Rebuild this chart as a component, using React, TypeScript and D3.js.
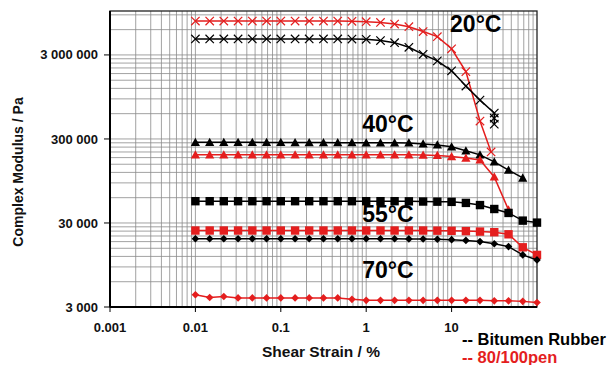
import React from 'react';
import * as d3 from 'd3';

// Shear strain (%) measurement points
const strains = [0.01, 0.0147, 0.0215, 0.0316, 0.0464, 0.0681, 0.1, 0.147, 0.215, 0.316, 0.464, 0.681, 1, 1.47, 2.15, 3.16, 4.64, 6.81, 10, 14.7, 21.5, 31.6, 46.4, 68.1, 100];

// 20°C
const rubber20Strain = [0.01, 0.0147, 0.0215, 0.0316, 0.0464, 0.0681, 0.1, 0.147, 0.215, 0.316, 0.464, 0.681, 1, 1.47, 2.15, 3.16, 4.64, 6.81, 10, 14.7, 21.5, 31.6, 31.6, 31.6];
const rubber20 = [4.65e6, 4.65e6, 4.65e6, 4.65e6, 4.65e6, 4.65e6, 4.65e6, 4.65e6, 4.65e6, 4.65e6, 4.65e6, 4.63e6, 4.6e6, 4.45e6, 4.2e6, 3.7e6, 3.05e6, 2.55e6, 1.94e6, 1.28e6, 8.7e5, 6.1e5, 5.3e5, 4.5e5];
const pen20Strain = [0.01, 0.0147, 0.0215, 0.0316, 0.0464, 0.0681, 0.1, 0.147, 0.215, 0.316, 0.464, 0.681, 1, 1.47, 2.15, 3.16, 4.64, 6.81, 10, 14.7, 21.5, 29];
const pen20 = [7.6e6, 7.6e6, 7.6e6, 7.6e6, 7.6e6, 7.6e6, 7.6e6, 7.6e6, 7.6e6, 7.6e6, 7.6e6, 7.55e6, 7.45e6, 7.3e6, 7.0e6, 6.5e6, 5.7e6, 4.95e6, 3.55e6, 1.9e6, 4.9e5, 2.1e5];

// 40°C
const rubber40 = [2.74e5, 2.74e5, 2.74e5, 2.74e5, 2.74e5, 2.73e5, 2.73e5, 2.72e5, 2.72e5, 2.72e5, 2.71e5, 2.71e5, 2.7e5, 2.7e5, 2.7e5, 2.69e5, 2.62e5, 2.55e5, 2.42e5, 2.17e5, 1.94e5, 1.6e5, 1.28e5, 1.03e5];
const pen40 = [1.94e5, 1.94e5, 1.94e5, 1.94e5, 1.94e5, 1.94e5, 1.94e5, 1.94e5, 1.94e5, 1.94e5, 1.94e5, 1.94e5, 1.94e5, 1.94e5, 1.94e5, 1.94e5, 1.93e5, 1.91e5, 1.85e5, 1.78e5, 1.69e5, 1.06e5, 4.3e4];

// 55°C
const rubber55 = [5.45e4, 5.45e4, 5.45e4, 5.45e4, 5.45e4, 5.45e4, 5.45e4, 5.45e4, 5.45e4, 5.45e4, 5.45e4, 5.45e4, 5.45e4, 5.45e4, 5.45e4, 5.43e4, 5.4e4, 5.38e4, 5.35e4, 5.2e4, 4.9e4, 4.4e4, 3.95e4, 3.2e4, 3.03e4];
const pen55 = [2.44e4, 2.44e4, 2.44e4, 2.44e4, 2.44e4, 2.44e4, 2.44e4, 2.44e4, 2.44e4, 2.44e4, 2.44e4, 2.44e4, 2.44e4, 2.44e4, 2.44e4, 2.44e4, 2.44e4, 2.43e4, 2.42e4, 2.4e4, 2.37e4, 2.33e4, 2.2e4, 1.54e4, 1.25e4];

// 70°C
const rubber70 = [1.95e4, 1.95e4, 1.95e4, 1.95e4, 1.95e4, 1.95e4, 1.95e4, 1.95e4, 1.95e4, 1.95e4, 1.95e4, 1.95e4, 1.95e4, 1.95e4, 1.95e4, 1.94e4, 1.93e4, 1.92e4, 1.9e4, 1.86e4, 1.8e4, 1.7e4, 1.57e4, 1.25e4, 1.09e4];
const pen70 = [4.2e3, 3.9e3, 4.0e3, 3.85e3, 3.85e3, 3.85e3, 3.85e3, 3.85e3, 3.85e3, 3.85e3, 3.85e3, 3.7e3, 3.6e3, 3.6e3, 3.6e3, 3.6e3, 3.6e3, 3.6e3, 3.6e3, 3.6e3, 3.6e3, 3.55e3, 3.55e3, 3.5e3, 3.4e3];

const xTickValues = [0.001, 0.01, 0.1, 1, 10];
const xTickLabels = ['0.001', '0.01', '0.1', '1', '10'];
const yTickValues = [3000, 30000, 300000, 3000000];
const yTickLabels = ['3 000', '30 000', '300 000', '3 000 000'];
const xMinorMultipliers = [1, 2, 3, 4, 5, 6, 7, 8, 9];
const xDecades = [0.001, 0.01, 0.1, 1, 10];
const yMinorMultipliers = [1, 2, 3, 4, 5, 6, 7, 8, 9];
const yDecades = [3000, 30000, 300000, 3000000];

const tempLabels = [
  { text: '20°C', strain: 9.6, modulus: 5.6e6 },
  { text: '40°C', strain: 0.9, modulus: 3.6e5 },
  { text: '55°C', strain: 0.9, modulus: 3.05e4 },
  { text: '70°C', strain: 0.9, modulus: 6.6e3 },
];

const RED = '#e41e1e';
const BLACK = '#000000';
const FONT = '"Liberation Sans", Arial, sans-serif';

type Marker = 'cross' | 'triangle' | 'square' | 'diamond';
interface Series { color: string; marker: Marker; strain: number[]; modulus: number[]; }

const series: Series[] = [
  { color: RED, marker: 'cross', strain: pen20Strain, modulus: pen20 },
  { color: BLACK, marker: 'cross', strain: rubber20Strain, modulus: rubber20 },
  { color: BLACK, marker: 'triangle', strain: strains.slice(0, rubber40.length), modulus: rubber40 },
  { color: RED, marker: 'triangle', strain: strains.slice(0, pen40.length), modulus: pen40 },
  { color: BLACK, marker: 'square', strain: strains, modulus: rubber55 },
  { color: RED, marker: 'square', strain: strains, modulus: pen55 },
  { color: BLACK, marker: 'diamond', strain: strains, modulus: rubber70 },
  { color: RED, marker: 'diamond', strain: strains, modulus: pen70 },
];

const W = 610, H = 365;
const plot = { left: 110, right: 537, top: 11, bottom: 307 };

function MarkerShape({ type, x, y, color }: { type: Marker; x: number; y: number; color: string }) {
  if (type === 'cross') {
    const s = 4.2;
    return <path d={`M${x - s},${y - s}L${x + s},${y + s}M${x - s},${y + s}L${x + s},${y - s}`} stroke={color} strokeWidth={1.2} fill="none" />;
  }
  if (type === 'triangle') {
    const s = 4.6;
    return <path d={`M${x},${y - s}L${x + s},${y + s * 0.8}L${x - s},${y + s * 0.8}Z`} fill={color} />;
  }
  if (type === 'square') {
    const s = 4.2;
    return <rect x={x - s} y={y - s} width={2 * s} height={2 * s} fill={color} />;
  }
  const s = 3.8;
  return <path d={`M${x},${y - s}L${x + s},${y}L${x},${y + s}L${x - s},${y}Z`} fill={color} />;
}

export default function App() {
  const x = d3.scaleLog().domain([0.001, 100]).range([plot.left, plot.right]);
  const y = d3.scaleLog().domain([3000, 1e7]).range([plot.bottom, plot.top]);

  const xGrid: number[] = [];
  xDecades.forEach(d => xMinorMultipliers.forEach(m => xGrid.push(d * m)));
  const yGrid: number[] = [];
  yDecades.forEach(d => yMinorMultipliers.forEach(m => { const v = d * m; if (v <= 1e7) yGrid.push(v); }));

  const line = d3.line<[number, number]>().x(d => x(d[0])).y(d => y(d[1]));

  return (
    <svg width={W} height={H} style={{ position: 'absolute', left: 0, top: 0, background: '#fff' }} fontFamily={FONT}>
      <rect x={0} y={0} width={W} height={H} fill="#fff" />
      {/* grid */}
      {xGrid.map((v, i) => (
        <line key={'xg' + i} x1={x(v)} x2={x(v)} y1={plot.top} y2={plot.bottom} stroke="#8a8a8a" strokeWidth={0.8} />
      ))}
      {yGrid.map((v, i) => (
        <line key={'yg' + i} x1={plot.left} x2={plot.right} y1={y(v)} y2={y(v)} stroke="#8a8a8a" strokeWidth={0.8} />
      ))}
      {/* frame */}
      <rect x={plot.left} y={plot.top} width={plot.right - plot.left} height={plot.bottom - plot.top} fill="none" stroke="#222" strokeWidth={1.3} />
      <line x1={plot.left} x2={plot.left} y1={plot.top} y2={plot.bottom} stroke="#000" strokeWidth={2} />
      <line x1={plot.left} x2={plot.right} y1={plot.bottom} y2={plot.bottom} stroke="#000" strokeWidth={2} />
      {/* y ticks */}
      {yTickValues.map((v, i) => (
        <g key={'yt' + i}>
          <line x1={plot.left - 6} x2={plot.left} y1={y(v)} y2={y(v)} stroke="#000" strokeWidth={1} />
          <text x={98} y={y(v)} dy="0.35em" textAnchor="end" fontSize={13} fontWeight="bold" fill="#111">{yTickLabels[i]}</text>
        </g>
      ))}
      {/* x ticks */}
      {xTickValues.map((v, i) => (
        <g key={'xt' + i}>
          <line x1={x(v)} x2={x(v)} y1={plot.bottom} y2={plot.bottom + 5} stroke="#000" strokeWidth={1} />
          <text x={x(v)} y={332} textAnchor="middle" fontSize={13} fontWeight="bold" fill="#111">{xTickLabels[i]}</text>
        </g>
      ))}
      {/* series */}
      {series.map((s, si) => {
        const pts: [number, number][] = s.modulus.map((m, i) => [s.strain[i], m]);
        return (
          <g key={'s' + si}>
            <path d={line(pts) || ''} fill="none" stroke={s.color} strokeWidth={1.5} />
            {pts.map((p, i) => (
              <MarkerShape key={i} type={s.marker} x={x(p[0])} y={y(p[1])} color={s.color} />
            ))}
          </g>
        );
      })}
      {/* temperature labels */}
      {tempLabels.map((t, i) => (
        <text key={'tl' + i} x={x(t.strain)} y={y(t.modulus)} fontSize={23} fontWeight="bold" fill="#000">{t.text}</text>
      ))}
      {/* axis titles */}
      <text transform={`translate(23,172) rotate(-90)`} textAnchor="middle" fontSize={14} fontWeight="bold" fill="#111">Complex Modulus / Pa</text>
      <text x={321} y={357} textAnchor="middle" fontSize={15.5} fontWeight="bold" fill="#111">Shear Strain / %</text>
      {/* legend */}
      <text x={462} y={345} fontSize={16.5} fontWeight="bold" fill="#000">-- Bitumen Rubber</text>
      <text x={462} y={363} fontSize={16.5} fontWeight="bold" fill={RED}>-- 80/100pen</text>
    </svg>
  );
}
